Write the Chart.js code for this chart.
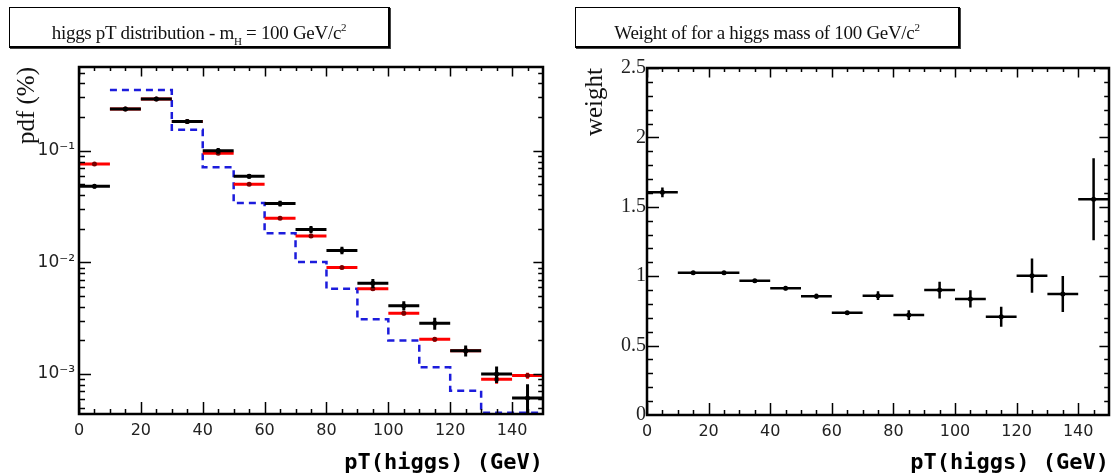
<!DOCTYPE html>
<html>
<head>
<meta charset="utf-8">
<script src="https://cdn.jsdelivr.net/npm/chart.js@4.4.1/dist/chart.umd.min.js"></script>
<style>
    body { margin: 0; background: #fff; }
    #page { position: relative; width: 1115px; height: 476px; background: #fff; overflow: hidden; }
    canvas { position: absolute; top: 0; }
    .pave {
        position: absolute;
        top: 7px;
        height: 41px;
        box-sizing: border-box;
        border: 1px solid #000;
        border-right-width: 2px;
        border-bottom-width: 2px;
        box-shadow: 1px 1px 0 #444;
        background: #fff;
        font-family: "Liberation Serif", serif;
        font-size: 19px;
        line-height: 38px;
        text-align: center;
        color: #111;
        letter-spacing: -0.3px;
        z-index: 2;
    }
    .pave sub { font-size: 11px; vertical-align: -6px; }
    .pave sup { font-size: 11px; vertical-align: 8px; }
</style>
</head>
<body>
<div id="page">
    <div class="pave" style="left: 9px; width: 381px;">higgs pT distribution - m<sub>H</sub> = 100 GeV/c<sup>2</sup></div>
    <div class="pave" style="left: 575px; width: 385px;">Weight of for a higgs mass of 100 GeV/c<sup>2</sup></div>
    <canvas id="pdfChart" width="557" height="476" style="left: 0;"></canvas>
    <canvas id="weightChart" width="558" height="476" style="left: 557px;"></canvas>
</div>

<script>
// pT(higgs) bin edges, GeV
const ptEdges = [0, 10, 20, 30, 40, 50, 60, 70, 80, 90, 100, 110, 120, 130, 140, 150];
const xTicks = [0, 20, 40, 60, 80, 100, 120, 140];

// left panel - pdf per bin
const pdfBlack    = [0.048, 0.237, 0.29, 0.183, 0.100, 0.059, 0.0336, 0.0197, 0.0128, 0.0065, 0.0041, 0.00285, 0.00162, 0.00100, 0.00061];
const pdfBlackErr = [0.002, 0.008, 0.010, 0.007, 0.006, 0.003, 0.0020, 0.0015, 0.0010, 0.0006, 0.0004, 0.00035, 0.00018, 0.00017, 0.00020];
const pdfRed      = [0.076, 0.237, 0.29, 0.183, 0.095, 0.050, 0.0249, 0.0172, 0.0090, 0.0058, 0.0035, 0.00205, 0.00162, 0.00090, 0.00097];
const pdfRedErr   = [0.002, 0.006, 0.007, 0.005, 0.003, 0.0015, 0.0008, 0.0006, 0.0003, 0.0002, 0.00015, 0.0001, 0.0001, 0.00008, 0.00006];
const pdfBlue     = [null, 0.35, 0.35, 0.154, 0.071, 0.034, 0.0182, 0.0101, 0.0058, 0.0031, 0.0020, 0.00115, 0.00071, 0.00045, 0.00045];
const pdfTicks = [1e-3, 1e-2, 1e-1];
const pdfTickLabels = ['10⁻³', '10⁻²', '10⁻¹'];

// right panel - weight per bin
const weight    = [1.604, 1.025, 1.025, 0.968, 0.913, 0.855, 0.737, 0.860, 0.720, 0.900, 0.836, 0.708, 1.004, 0.872, 1.554];
const weightErr = [0.035, 0.010, 0.010, 0.012, 0.015, 0.018, 0.012, 0.032, 0.035, 0.060, 0.062, 0.072, 0.124, 0.130, 0.295];
const weightTicks = [0, 0.5, 1, 1.5, 2, 2.5];
const weightTickLabels = ['0', '0.5', '1', '1.5', '2', '2.5'];

// horizontal bar per bin + vertical error bar, nulls break the line
function histPoints(vals, errs) {
    const pts = [];
    vals.forEach((v, i) => {
        if (v === null) return;
        const lo = ptEdges[i], hi = ptEdges[i + 1], c = (lo + hi) / 2;
        pts.push({x: lo, y: v}, {x: c, y: v, m: true}, {x: hi, y: v}, {x: c, y: null});
        if (errs) {
            pts.push({x: c, y: v - errs[i]}, {x: c, y: v + errs[i]}, {x: c, y: null});
        }
    });
    return pts;
}

// dashed histogram outline
function stepPoints(vals) {
    const pts = [];
    vals.forEach((v, i) => {
        if (v === null) return;
        pts.push({x: ptEdges[i], y: v}, {x: ptEdges[i + 1], y: v});
    });
    return pts;
}

function range(a, b, step) {
    const out = [];
    for (let v = a; v <= b + 1e-9; v += step) out.push(Math.round(v * 1000) / 1000);
    return out;
}

// ROOT style frame with ticks pointing inside
const frameTicks = {
    id: 'frameTicks',
    afterDatasetsDraw(chart, args, opts) {
        const {ctx, chartArea: a, scales} = chart;
        const x = scales.x, y = scales.y;
        ctx.save();
        ctx.strokeStyle = '#000';
        ctx.lineWidth = 1.5;
        ctx.beginPath();
        const tick = (list, len, horiz) => {
            list.forEach(v => {
                if (horiz) {
                    const px = Math.round(x.getPixelForValue(v)) + 0.5;
                    if (px < a.left || px > a.right) return;
                    ctx.moveTo(px, a.bottom); ctx.lineTo(px, a.bottom - len);
                    ctx.moveTo(px, a.top); ctx.lineTo(px, a.top + len * 0.8);
                } else {
                    const py = Math.round(y.getPixelForValue(v)) + 0.5;
                    if (py < a.top || py > a.bottom) return;
                    ctx.moveTo(a.left, py); ctx.lineTo(a.left + len, py);
                    ctx.moveTo(a.right, py); ctx.lineTo(a.right - len * 0.8, py);
                }
            });
        };
        tick(opts.xMinor, 5, true);
        tick(opts.xMajor, 12, true);
        tick(opts.yMinor, 6, false);
        tick(opts.yMajor, 12, false);
        ctx.stroke();
        ctx.lineWidth = 2.5;
        ctx.strokeRect(a.left, a.top, a.right - a.left, a.bottom - a.top);
        ctx.restore();
    }
};

const tickFont = {family: 'DejaVu Sans', size: 16};

function xScale(axisHeight) {
    return {
        type: 'linear',
        min: 0,
        max: 150,
        afterBuildTicks: s => { s.ticks = xTicks.map(v => ({value: v})); },
        afterFit: s => { s.height = axisHeight; },
        grid: {display: false, drawTicks: false},
        border: {display: false},
        ticks: {font: tickFont, color: '#222', padding: 7, maxRotation: 0, autoSkip: false},
        title: {
            display: true,
            text: 'pT(higgs) (GeV)',
            align: 'end',
            color: '#000',
            font: {family: 'DejaVu Sans Mono', size: 22, weight: 'bold'},
            padding: {top: 3, bottom: 0}
        }
    };
}

function histDataset(data, color, width, markColor, order) {
    return {
        data: data,
        borderColor: color,
        borderWidth: width,
        borderCapStyle: 'butt',
        pointRadius: ctx => (ctx.raw && ctx.raw.m ? 2.5 : 0),
        pointBackgroundColor: markColor,
        pointBorderWidth: 0,
        pointHoverRadius: 0,
        spanGaps: false,
        tension: 0,
        order: order
    };
}

// log pdf panel
const logMinor = [];
[-4, -3, -2, -1].forEach(k => { for (let m = 2; m <= 9; m++) logMinor.push(m * Math.pow(10, k)); });

new Chart(document.getElementById('pdfChart'), {
    type: 'line',
    data: {
        datasets: [
            histDataset(histPoints(pdfBlack, pdfBlackErr), '#000', 3, '#000', 1),
            histDataset(histPoints(pdfRed, pdfRedErr), '#ff0000', 3, '#7a0000', 2),
            {
                data: stepPoints(pdfBlue),
                borderColor: '#1c1cdc',
                borderWidth: 2.5,
                borderDash: [7, 5],
                pointRadius: 0,
                pointHoverRadius: 0,
                tension: 0,
                order: 3
            }
        ]
    },
    options: {
        responsive: false,
        animation: false,
        devicePixelRatio: 1,
        events: [],
        layout: {padding: {top: 67, right: 14, bottom: 0, left: 0}},
        plugins: {
            legend: {display: false},
            tooltip: {enabled: false},
            frameTicks: {
                xMajor: xTicks,
                xMinor: range(0, 150, 5),
                yMajor: pdfTicks,
                yMinor: logMinor
            }
        },
        scales: {
            x: xScale(62),
            y: {
                type: 'logarithmic',
                min: 4.39e-4,
                max: 0.562,
                afterBuildTicks: s => { s.ticks = pdfTicks.map(v => ({value: v})); },
                afterFit: s => { s.width = 79; },
                grid: {display: false, drawTicks: false},
                border: {display: false},
                ticks: {
                    font: {family: 'DejaVu Sans', size: 17},
                    color: '#222',
                    padding: 4,
                    autoSkip: false,
                    callback: (v, i) => pdfTickLabels[i]
                },
                title: {
                    display: true,
                    text: 'pdf (%)',
                    align: 'end',
                    color: '#111',
                    font: {family: 'Liberation Serif', size: 25},
                    padding: {top: 12, bottom: 0}
                }
            }
        }
    },
    plugins: [frameTicks]
});

// weight panel
new Chart(document.getElementById('weightChart'), {
    type: 'line',
    data: {
        datasets: [
            histDataset(histPoints(weight, weightErr), '#000', 2.5, '#000', 1)
        ]
    },
    options: {
        responsive: false,
        animation: false,
        devicePixelRatio: 1,
        events: [],
        layout: {padding: {top: 68, right: 6, bottom: 0, left: 0}},
        plugins: {
            legend: {display: false},
            tooltip: {enabled: false},
            frameTicks: {
                xMajor: xTicks,
                xMinor: range(0, 150, 5),
                yMajor: weightTicks,
                yMinor: range(0, 2.5, 0.1)
            }
        },
        scales: {
            x: xScale(61),
            y: {
                type: 'linear',
                min: 0,
                max: 2.5,
                afterBuildTicks: s => { s.ticks = weightTicks.map(v => ({value: v})); },
                afterFit: s => { s.width = 90; },
                grid: {display: false, drawTicks: false},
                border: {display: false},
                ticks: {
                    font: {family: 'Liberation Serif', size: 20},
                    color: '#222',
                    padding: 1,
                    autoSkip: false,
                    callback: (v, i) => weightTickLabels[i]
                },
                title: {
                    display: true,
                    text: 'weight',
                    align: 'end',
                    color: '#111',
                    font: {family: 'Liberation Serif', size: 25},
                    padding: {top: 23, bottom: 0}
                }
            }
        }
    },
    plugins: [frameTicks]
});
</script>
</body>
</html>
